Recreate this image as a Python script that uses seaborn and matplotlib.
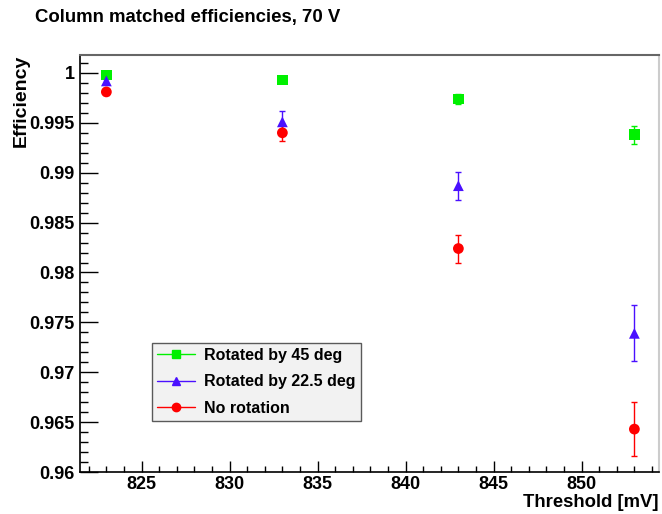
import numpy as np
import pandas as pd
import matplotlib
matplotlib.use("Agg")
import matplotlib.pyplot as plt
from matplotlib.lines import Line2D
from matplotlib.ticker import MultipleLocator, FuncFormatter
import seaborn as sns

# ── data ──────────────────────────────────────────────────────────────────────
thresholds = [823, 833, 843, 853]
series_names = ["Rotated by 45 deg", "Rotated by 22.5 deg", "No rotation"]
eff_45 = [0.9998, 0.9993, 0.9974, 0.9938]
err_45 = [0.0001, 0.0001, 0.0005, 0.0009]
eff_225 = [0.9992, 0.9951, 0.9887, 0.9739]
err_225 = [0.0002, 0.0011, 0.0014, 0.0028]
eff_0 = [0.9981, 0.9940, 0.9824, 0.9643]
err_0 = [0.0003, 0.0008, 0.0014, 0.0027]

colors = {"Rotated by 45 deg": "#00f000",
          "Rotated by 22.5 deg": "#4a10ff",
          "No rotation": "#ff0000"}
markers = {"Rotated by 45 deg": "s",
           "Rotated by 22.5 deg": "^",
           "No rotation": "o"}

df = pd.concat([
    pd.DataFrame({"threshold": thresholds, "eff": e, "err": r, "series": n})
    for n, e, r in zip(series_names, [eff_45, eff_225, eff_0], [err_45, err_225, err_0])
], ignore_index=True)

sns.set_theme(style="white")
plt.rcParams["font.family"] = ["Liberation Sans", "DejaVu Sans"]
plt.rcParams["font.weight"] = "bold"
for k in ["text.color", "axes.labelcolor", "xtick.color", "ytick.color"]:
    plt.rcParams[k] = "black"

fig = plt.figure(figsize=(6.62, 5.14), dpi=100)
ax = fig.add_axes([0.1208, 0.0817, 0.8747, 0.8113])

# error bars first, markers on top
for name in series_names:
    d = df[df.series == name]
    ax.errorbar(d.threshold, d.eff, yerr=d.err, fmt="none",
                ecolor=colors[name], elinewidth=1.0, capsize=2, capthick=1.0, zorder=2)

sns.scatterplot(data=df, x="threshold", y="eff", hue="series", style="series",
                palette=colors, markers=markers, s=60, edgecolor="none",
                legend=False, ax=ax, zorder=3)

ax.set_xlim(821.5, 854.4)
ax.set_ylim(0.96, 1.0018)

ax.xaxis.set_major_locator(MultipleLocator(5))
ax.xaxis.set_minor_locator(MultipleLocator(1))
ax.yaxis.set_major_locator(MultipleLocator(0.005))
ax.yaxis.set_minor_locator(MultipleLocator(0.001))
ax.yaxis.set_major_formatter(FuncFormatter(lambda v, p: f"{v:g}"))

ax.tick_params(axis="both", which="both", direction="in", colors="black",
               labelsize=13, bottom=True, left=True, top=False, right=False)
ax.tick_params(axis="y", which="major", length=13, width=1.0, pad=4)
ax.tick_params(axis="y", which="minor", length=6, width=1.0)
ax.tick_params(axis="x", which="major", length=8, width=1.0, pad=3)
ax.tick_params(axis="x", which="minor", length=4, width=1.0)
for lab in ax.get_xticklabels() + ax.get_yticklabels():
    lab.set_fontweight("bold")

ax.spines["left"].set_color("black")
ax.spines["bottom"].set_color("black")
ax.spines["left"].set_linewidth(1.2)
ax.spines["bottom"].set_linewidth(1.2)
ax.spines["top"].set_color("#666666")
ax.spines["top"].set_linewidth(1.5)
ax.spines["right"].set_color("#cccccc")
ax.spines["right"].set_linewidth(1.5)

ax.set_xlabel("")
ax.set_ylabel("")
fig.text(0.994, 0.013, "Threshold [mV]", ha="right", va="baseline",
         fontsize=13.3, fontweight="bold")
fig.text(0.02, 0.893, "Efficiency", ha="left", va="top", rotation=90,
         fontsize=14, fontweight="bold")
fig.text(0.053, 0.965, "Column matched efficiencies, 70 V", ha="left", va="center",
         fontsize=13.4, fontweight="bold")

handles = [Line2D([0], [0], color=colors[n], marker=markers[n], markersize=6,
                  linewidth=1.0) for n in series_names]
leg = ax.legend(handles, series_names, loc="upper left",
                bbox_to_anchor=(0.124, 0.309, 0.362, 0.0), mode="expand",
                fontsize=11.5, frameon=True, fancybox=False, handlelength=2.4,
                handletextpad=0.6, borderaxespad=0, labelspacing=0.72,
                borderpad=0.3)
leg.get_frame().set_facecolor("#efefef")
leg.get_frame().set_edgecolor("#333333")
leg.get_frame().set_linewidth(1.0)
for t in leg.get_texts():
    t.set_fontweight("bold")

fig.savefig("out.png", dpi=100)
